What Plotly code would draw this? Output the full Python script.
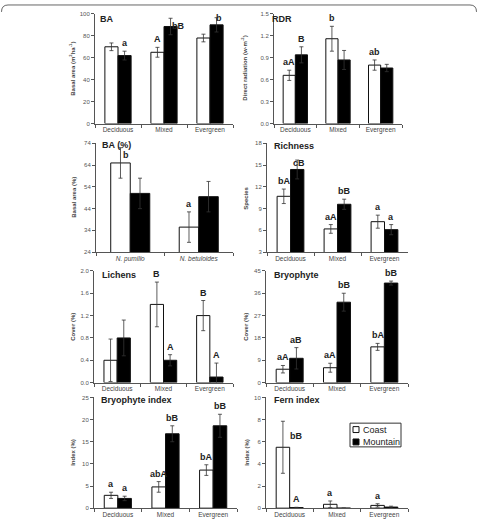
import plotly.graph_objects as go

# ---------------- data ----------------
forest = ["Deciduous", "Mixed", "Evergreen"]
species = ["<i>N. pumilio</i>", "<i>N. betuloides</i>"]
series_names = ["Coast", "Mountain"]

ba_coast = [70, 65, 78]
ba_coast_err = [3.5, 4.5, 3.5]
ba_mount = [62, 88.5, 90]
ba_mount_err = [4, 7.5, 6.5]
ba_coast_lab = ["", "A", ""]
ba_mount_lab = ["a", "bB", "b"]

rdr_coast = [0.66, 1.16, 0.80]
rdr_coast_err = [0.07, 0.17, 0.07]
rdr_mount = [0.94, 0.87, 0.76]
rdr_mount_err = [0.11, 0.13, 0.05]
rdr_coast_lab = ["aA", "b", "ab"]
rdr_mount_lab = ["B", "", ""]

bap_coast = [65, 35.5]
bap_coast_err = [7, 7]
bap_mount = [51, 49.5]
bap_mount_err = [7, 7]
bap_coast_lab = ["b", "a"]
bap_mount_lab = ["", ""]

rich_coast = [10.7, 6.2, 7.2]
rich_coast_err = [1.0, 0.6, 0.9]
rich_mount = [14.4, 9.6, 6.1]
rich_mount_err = [1.3, 0.7, 0.7]
rich_coast_lab = ["bA", "aA", "a"]
rich_mount_lab = ["cB", "bB", "a"]

lich_coast = [0.4, 1.4, 1.2]
lich_coast_err = [0.38, 0.4, 0.27]
lich_mount = [0.8, 0.4, 0.1]
lich_mount_err = [0.32, 0.1, 0.25]
lich_coast_lab = ["", "B", "B"]
lich_mount_lab = ["", "A", "A"]

bryo_coast = [5.4, 6.0, 14.4]
bryo_coast_err = [1.5, 1.8, 1.4]
bryo_mount = [9.8, 32.4, 40.1]
bryo_mount_err = [4.3, 3.6, 0.8]
bryo_coast_lab = ["aA", "aA", "bA"]
bryo_mount_lab = ["aB", "bB", "bB"]

bidx_coast = [2.9, 4.8, 8.6]
bidx_coast_err = [0.7, 1.2, 1.2]
bidx_mount = [2.2, 16.8, 18.6]
bidx_mount_err = [0.5, 1.8, 2.6]
bidx_coast_lab = ["a", "abA", "bA"]
bidx_mount_lab = ["a", "bB", "bB"]

fern_coast = [5.5, 0.35, 0.25]
fern_coast_err = [2.35, 0.3, 0.15]
fern_mount = [0.05, 0.0, 0.1]
fern_mount_err = [0.03, 0.0, 0.08]
fern_coast_lab = ["bB", "a", "a"]
fern_mount_lab = ["A", "", ""]

# ---------------- layout helpers ----------------
W, H = 478, 526
FONT = "Liberation Sans, Arial, sans-serif"
LINE = "#555555"


def px(x):
    return x / W


def py(y):
    return 1 - y / H


panels = [
    ("BA", forest, ba_coast, ba_coast_err, ba_mount, ba_mount_err, ba_coast_lab, ba_mount_lab,
     "Basal area (m<sup>2</sup>ha<sup>-1</sup>)", [0, 100], 20, 0, "", (95, 233, 11, 122), (98, 16), 72),
    ("RDR", forest, rdr_coast, rdr_coast_err, rdr_mount, rdr_mount_err, rdr_coast_lab, rdr_mount_lab,
     "Direct radiation (w·m<sup>-2</sup>)", [0, 1.5], 0.3, 0, ".1f", (274, 402, 11, 122), (270, 16), 244),
    ("BA (%)", species, bap_coast, bap_coast_err, bap_mount, bap_mount_err, bap_coast_lab, bap_mount_lab,
     "Basal area (%)", [24, 74], 10, 24, "", (96, 233, 142, 252), (100, 144), 74),
    ("Richness", forest, rich_coast, rich_coast_err, rich_mount, rich_mount_err, rich_coast_lab, rich_mount_lab,
     "Species", [3, 18], 3, 3, "", (267, 408, 142, 252), (272, 145), 246),
    ("Lichens", forest, lich_coast, lich_coast_err, lich_mount, lich_mount_err, lich_coast_lab, lich_mount_lab,
     "Cover (%)", [0, 2.0], 0.4, 0, ".1f", (94, 233, 271, 384), (100, 275), 73),
    ("Bryophyte", forest, bryo_coast, bryo_coast_err, bryo_mount, bryo_mount_err, bryo_coast_lab, bryo_mount_lab,
     "Cover (%)", [0, 45], 9, 0, "", (266, 408, 271, 384), (272, 275), 246),
    ("Bryophyte index", forest, bidx_coast, bidx_coast_err, bidx_mount, bidx_mount_err, bidx_coast_lab, bidx_mount_lab,
     "Index (%)", [0, 25], 5, 0, "", (94, 237, 399, 511), (99, 402), 73),
    ("Fern index", forest, fern_coast, fern_coast_err, fern_mount, fern_mount_err, fern_coast_lab, fern_mount_lab,
     "Index (%)", [0, 10], 2, 0, "", (266, 408, 399, 511), (272, 402), 247),
]

# label placement tweaks: (panel, series, index) -> (dx, y spec, yanchor)
overrides = {
    (0, "m", 1): (0.16, "val", "middle"),
    (0, "m", 2): (0.06, "top", "middle"),
    (2, "c", 0): (0.08, "val", "bottom"),
    (3, "m", 0): (0.04, 15.3, "middle"),
    (7, "c", 0): (0.285, 6.5, "middle"),
}

BARGAP = 0.43
half = (1 - BARGAP) / 4

fig = go.Figure()
layout = {}
annotations = []
shapes = []

for k, (name, cats, cv, ce, mv, me, cl, ml, ytitle, yr, dt, t0, fmt, box, txy, ytx) in enumerate(panels):
    n = k + 1
    xa = "x" if n == 1 else f"x{n}"
    ya = "y" if n == 1 else f"y{n}"
    xkey = "xaxis" if n == 1 else f"xaxis{n}"
    ykey = "yaxis" if n == 1 else f"yaxis{n}"
    x0, x1, yt, yb = box

    fig.add_trace(go.Bar(
        x=cats, y=cv, name=series_names[0], xaxis=xa, yaxis=ya,
        marker=dict(color="white", line=dict(color="#111111", width=1)),
        error_y=dict(type="data", array=ce, color="#333333", thickness=0.8, width=2),
        showlegend=False))
    fig.add_trace(go.Bar(
        x=cats, y=mv, name=series_names[1], xaxis=xa, yaxis=ya,
        marker=dict(color="black", line=dict(color="#111111", width=1)),
        error_y=dict(type="data", array=me, color="#333333", thickness=0.8, width=2),
        showlegend=False))

    layout[xkey] = dict(
        domain=[px(x0), px(x1)], anchor=ya, type="category",
        categoryorder="array", categoryarray=cats,
        range=[-0.5, len(cats) - 0.5],
        showline=True, linecolor=LINE, linewidth=1,
        ticks="outside", ticklen=3, tickcolor=LINE, tickson="boundaries",
        tickfont=dict(family=FONT, size=6.5, color="#444444"),
        showgrid=False, zeroline=False, fixedrange=True)
    layout[ykey] = dict(
        domain=[py(yb), py(yt)], anchor=xa, range=yr,
        tick0=t0, dtick=dt, tickformat=fmt,
        showline=True, linecolor=LINE, linewidth=1,
        ticks="outside", ticklen=3, tickcolor=LINE,
        tickfont=dict(family=FONT, size=6, color="#555555"),
        showgrid=False, zeroline=False, fixedrange=True)

    annotations.append(dict(
        text=f"<b>{name}</b>", xref="paper", yref="paper", x=px(txy[0]), y=py(txy[1]),
        xanchor="left", yanchor="middle", showarrow=False,
        font=dict(family=FONT, size=9, color="#222222")))
    annotations.append(dict(
        text=f"<b>{ytitle}</b>", xref="paper", yref="paper", x=px(ytx), y=py((yt + yb) / 2),
        xanchor="center", yanchor="middle", textangle=-90, showarrow=False,
        font=dict(family=FONT, size=6, color="#444444")))

    for ser, vals, errs, labs, sgn in (("c", cv, ce, cl, -1), ("m", mv, me, ml, 1)):
        for i, lab in enumerate(labs):
            if not lab:
                continue
            dx, yy, yanc = 0.0, vals[i] + errs[i], "bottom"
            if (k, ser, i) in overrides:
                dx, yspec, yanc = overrides[(k, ser, i)]
                if yspec == "val":
                    yy = vals[i]
                elif yspec == "top":
                    yy = vals[i] + errs[i]
                else:
                    yy = yspec
            annotations.append(dict(
                text=f"<b>{lab}</b>", xref=xa, yref=ya, x=i + sgn * half + dx, y=yy,
                xanchor="center", yanchor=yanc, yshift=(1 if yanc == "bottom" else 0),
                showarrow=False, font=dict(family=FONT, size=9, color="#222222")))

# ---- compact legend (box, swatches, labels) ----
LX0, LX1, LY0, LY1 = 350, 401, 425, 449
shapes.append(dict(type="rect", xref="paper", yref="paper",
                   x0=px(LX0), x1=px(LX1), y0=py(LY1), y1=py(LY0),
                   line=dict(color="#333333", width=1), fillcolor="white", layer="above"))
for j, (nm, fillc) in enumerate(zip(series_names, ["white", "black"])):
    cy = 431.5 + 12.5 * j
    shapes.append(dict(type="rect", xref="paper", yref="paper",
                       x0=px(353), x1=px(359), y0=py(cy + 3), y1=py(cy - 3),
                       line=dict(color="#111111", width=1), fillcolor=fillc, layer="above"))
    annotations.append(dict(text=nm, xref="paper", yref="paper", x=px(360.5), y=py(cy),
                            xanchor="left", yanchor="middle", showarrow=False,
                            font=dict(family=FONT, size=9, color="#222222")))

# frame at top of image
shapes.append(dict(type="path", xref="paper", yref="paper",
                   path=(f"M {px(1.5)},{py(9)} Q {px(1.5)},{py(2)} {px(8)},{py(2)} "
                         f"L {px(470)},{py(2)} Q {px(476.5)},{py(2)} {px(476.5)},{py(9)}"),
                   line=dict(color="#666666", width=1)))

fig.update_layout(
    width=W, height=H, margin=dict(l=0, r=0, t=0, b=0),
    paper_bgcolor="white", plot_bgcolor="white",
    barmode="group", bargap=BARGAP, bargroupgap=0,
    annotations=annotations, shapes=shapes, showlegend=False,
    font=dict(family=FONT),
    **layout)

fig.write_html("out.html")
